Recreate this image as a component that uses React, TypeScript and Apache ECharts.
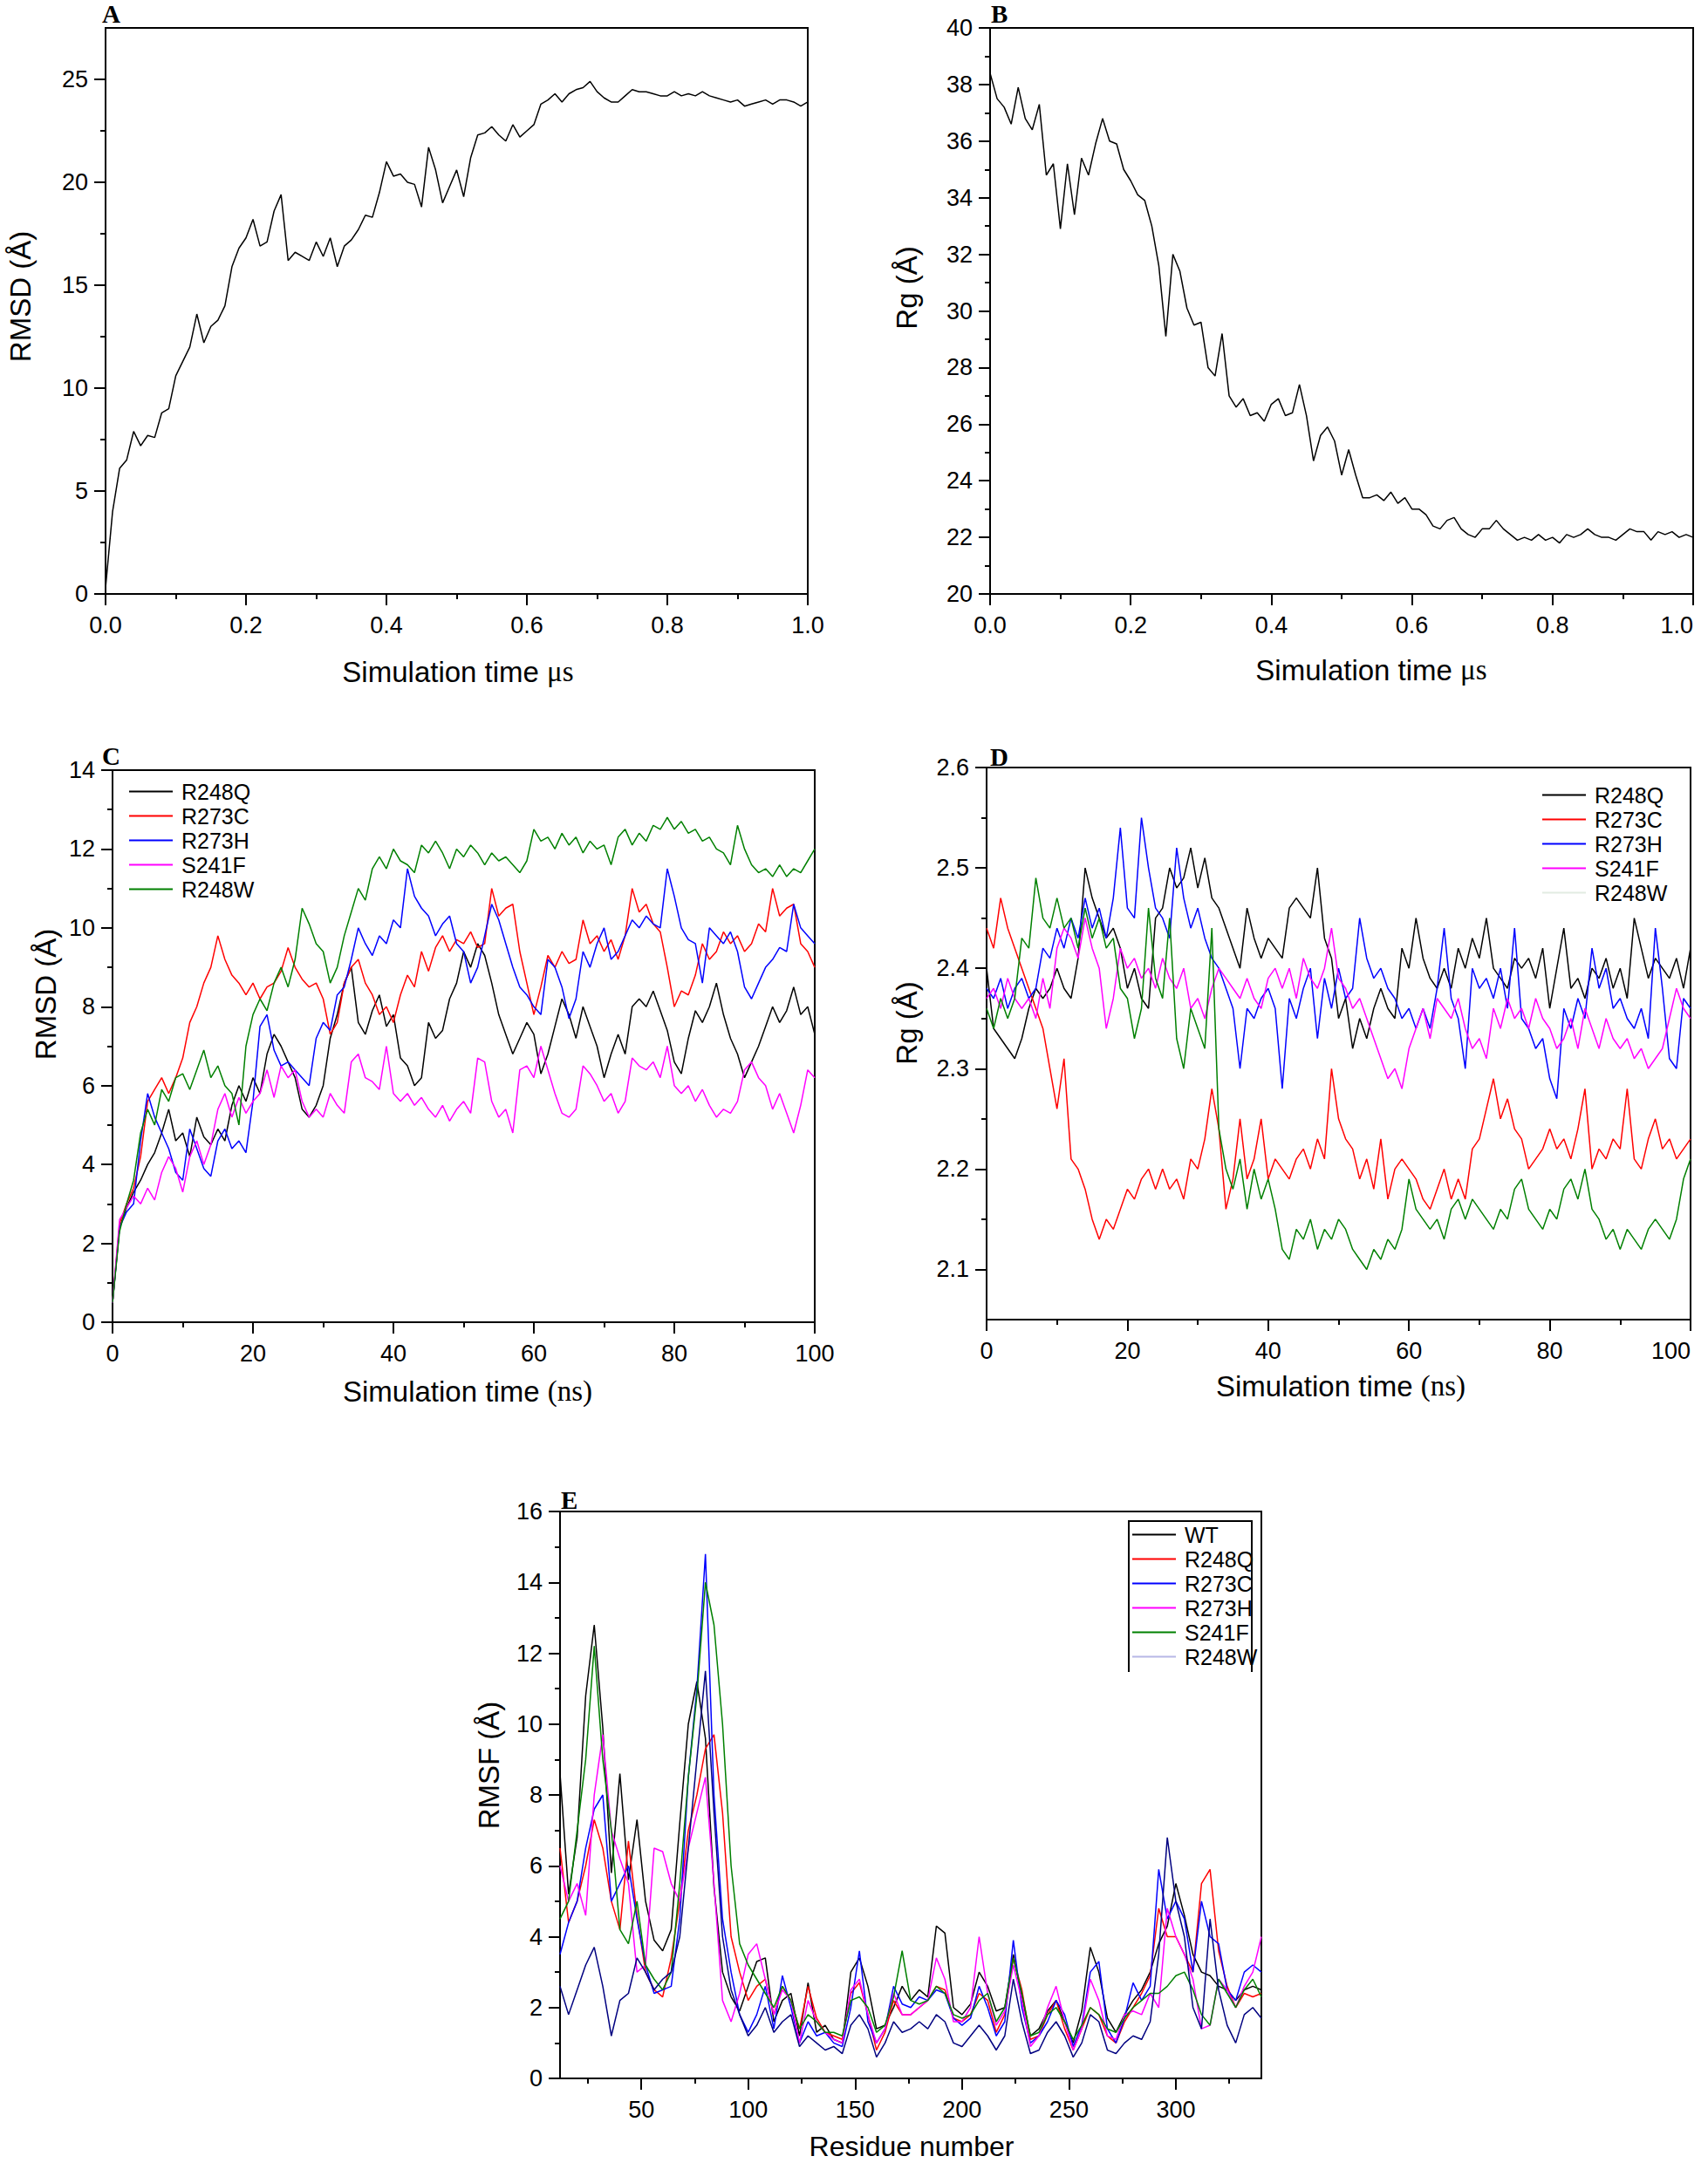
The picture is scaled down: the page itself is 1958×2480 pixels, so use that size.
import React, { useEffect, useRef } from "react";
import * as echarts from "echarts";

const SANS = '"Liberation Sans", Arial, sans-serif';
const SERIF = '"Liberation Serif", "Times New Roman", serif';

// sampling grids (x positions of the samples)
const timeUs = Array.from({ length: 101 }, (_, i) => i / 100);
const timeNs = Array.from({ length: 101 }, (_, i) => i);
const residues = Array.from({ length: 83 }, (_, i) => 12 + 4 * i);

// ---------- Panel A: RMSD (Å) vs time (µs) ----------
const rmsdA = [
  0.3, 4.0, 6.1, 6.5, 7.9, 7.2, 7.7, 7.6, 8.8, 9.0,
  10.6, 11.3, 12.0, 13.6, 12.2, 13.0, 13.3, 14.0, 15.9, 16.8,
  17.3, 18.2, 16.9, 17.1, 18.6, 19.4, 16.2, 16.6, 16.4, 16.2,
  17.1, 16.4, 17.3, 15.9, 16.9, 17.2, 17.7, 18.4, 18.3, 19.5,
  21.0, 20.3, 20.4, 20.0, 19.9, 18.8, 21.7, 20.6, 19.0, 19.8,
  20.6, 19.3, 21.2, 22.3, 22.4, 22.7, 22.3, 22.0, 22.8, 22.2,
  22.5, 22.8, 23.8, 24.0, 24.3, 23.9, 24.3, 24.5, 24.6, 24.9,
  24.4, 24.1, 23.9, 23.9, 24.2, 24.5, 24.4, 24.4, 24.3, 24.2,
  24.2, 24.4, 24.2, 24.3, 24.2, 24.4, 24.2, 24.1, 24.0, 23.9,
  24.0, 23.7, 23.8, 23.9, 24.0, 23.8, 24.0, 24.0, 23.9, 23.7, 23.9,
];

// ---------- Panel B: Rg (Å) vs time (µs) ----------
const rgB = [
  38.4, 37.5, 37.2, 36.6, 37.9, 36.8, 36.4, 37.3, 34.8, 35.2,
  32.9, 35.2, 33.4, 35.4, 34.8, 35.9, 36.8, 36.0, 35.9, 35.0,
  34.6, 34.1, 33.9, 33.0, 31.6, 29.1, 32.0, 31.4, 30.1, 29.5,
  29.6, 28.0, 27.7, 29.2, 27.0, 26.6, 26.9, 26.3, 26.4, 26.1,
  26.7, 26.9, 26.3, 26.4, 27.4, 26.3, 24.7, 25.6, 25.9, 25.4,
  24.2, 25.1, 24.2, 23.4, 23.4, 23.5, 23.3, 23.6, 23.2, 23.4,
  23.0, 23.0, 22.8, 22.4, 22.3, 22.6, 22.7, 22.3, 22.1, 22.0,
  22.3, 22.3, 22.6, 22.3, 22.1, 21.9, 22.0, 21.9, 22.1, 21.9,
  22.0, 21.8, 22.1, 22.0, 22.1, 22.3, 22.1, 22.0, 22.0, 21.9,
  22.1, 22.3, 22.2, 22.2, 21.9, 22.2, 22.1, 22.2, 22.0, 22.1, 22.0,
];

// ---------- Panel C: RMSD (Å) vs time (ns) ----------
const rmsdC_R248Q = [
  0.5, 2.4, 2.9, 3.3, 3.6, 4.0, 4.3, 4.8, 5.4, 4.6,
  4.8, 4.2, 5.2, 4.7, 4.5, 4.9, 4.6, 5.5, 6.0, 5.6,
  6.2, 5.8, 6.8, 7.3, 7.0, 6.6, 6.2, 5.4, 5.2, 5.5,
  6.0, 7.2, 7.8, 8.6, 9.0, 7.6, 7.3, 7.9, 8.3, 7.5,
  7.8, 6.7, 6.5, 6.0, 6.2, 7.6, 7.2, 7.4, 8.2, 8.6,
  9.4, 9.0, 9.6, 9.3, 8.6, 7.8, 7.3, 6.8, 7.2, 7.6,
  7.3, 6.3, 6.8, 7.5, 8.2, 7.8, 7.2, 8.0, 7.5, 7.0,
  6.2, 6.8, 7.3, 6.8, 8.0, 8.2, 8.0, 8.4, 7.9, 7.4,
  6.6, 6.3, 7.2, 7.9, 7.6, 8.0, 8.6, 7.8, 7.2, 6.8,
  6.2, 6.6, 7.0, 7.5, 8.0, 7.6, 7.9, 8.5, 7.8, 8.0, 7.3,
];
const rmsdC_R273C = [
  0.5, 2.5, 3.0, 3.4, 4.2, 5.6, 5.9, 6.2, 5.8, 6.2,
  6.7, 7.6, 8.0, 8.6, 9.0, 9.8, 9.2, 8.8, 8.6, 8.3,
  8.6, 8.2, 8.5, 8.6, 8.9, 9.5, 9.0, 8.7, 8.5, 8.6,
  8.2, 7.3, 7.6, 8.6, 9.0, 9.2, 8.6, 8.3, 7.8, 8.0,
  7.6, 8.3, 8.8, 8.5, 9.4, 8.9, 9.5, 9.8, 9.4, 9.7,
  9.6, 9.9, 9.5, 9.6, 11.0, 10.3, 10.5, 10.6, 9.4, 8.6,
  7.8, 8.5, 9.3, 9.0, 9.4, 9.1, 9.2, 10.2, 9.6, 9.8,
  9.4, 9.7, 9.2, 9.8, 11.0, 10.4, 10.6, 10.1, 9.9, 9.0,
  8.0, 8.4, 8.3, 8.8, 9.6, 9.2, 9.4, 9.9, 9.6, 9.8,
  9.4, 9.6, 10.1, 9.9, 11.0, 10.3, 10.5, 10.6, 9.6, 9.4, 9.0,
];
const rmsdC_R273H = [
  0.5, 2.4, 2.8, 3.0, 4.6, 5.8, 5.2, 4.8, 4.4, 3.8,
  3.6, 4.9, 4.4, 3.9, 3.7, 4.6, 4.9, 4.4, 4.6, 4.3,
  5.6, 7.5, 7.8, 6.9, 6.5, 6.6, 6.4, 6.2, 6.0, 7.2,
  7.6, 7.4, 8.3, 8.5, 9.2, 10.0, 9.6, 9.3, 9.8, 9.6,
  10.2, 10.0, 11.5, 10.8, 10.5, 10.3, 9.8, 10.1, 10.3, 9.6,
  9.4, 8.6, 9.0, 9.8, 10.6, 10.2, 9.6, 9.0, 8.5, 8.3,
  8.0, 7.8, 9.2, 9.0, 8.5, 7.7, 8.2, 9.4, 9.0, 9.6,
  10.0, 9.2, 9.4, 9.8, 10.2, 10.0, 10.3, 10.1, 10.0, 11.5,
  10.8, 10.0, 9.7, 9.6, 8.6, 10.0, 9.8, 9.6, 9.9, 9.4,
  8.5, 8.2, 8.6, 9.0, 9.2, 9.5, 9.4, 10.6, 10.0, 9.8, 9.6,
];
const rmsdC_S241F = [
  0.5, 2.6, 2.9, 3.2, 3.0, 3.4, 3.1, 3.8, 4.2, 3.9,
  3.3, 4.2, 4.6, 4.0, 4.5, 5.4, 5.8, 5.2, 5.7, 5.3,
  5.6, 5.8, 6.4, 5.7, 6.5, 6.2, 6.4, 5.6, 5.2, 5.4,
  5.2, 5.8, 5.5, 5.3, 6.6, 6.8, 6.2, 6.1, 5.9, 7.0,
  5.8, 5.6, 5.8, 5.5, 5.7, 5.4, 5.2, 5.5, 5.1, 5.4,
  5.6, 5.3, 6.7, 6.6, 5.6, 5.2, 5.4, 4.8, 6.4, 6.5,
  6.2, 7.0, 6.4, 5.8, 5.3, 5.2, 5.4, 6.5, 6.3, 6.0,
  5.6, 5.8, 5.3, 5.6, 6.7, 6.5, 6.4, 6.6, 6.2, 7.0,
  6.0, 5.8, 6.0, 5.6, 5.9, 5.5, 5.2, 5.4, 5.3, 5.6,
  6.4, 6.6, 6.2, 6.0, 5.4, 5.8, 5.3, 4.8, 5.5, 6.4, 6.2,
];
const rmsdC_R248W = [
  0.5, 2.3, 3.0, 3.6, 4.8, 5.4, 5.0, 5.9, 5.6, 6.2,
  6.3, 5.9, 6.4, 6.9, 6.2, 6.5, 6.0, 5.8, 5.0, 7.0,
  7.8, 8.2, 7.9, 8.6, 9.0, 8.5, 9.2, 10.5, 10.1, 9.6,
  9.4, 8.6, 9.0, 9.8, 10.4, 11.0, 10.7, 11.5, 11.8, 11.5,
  12.0, 11.7, 11.6, 11.4, 12.1, 11.9, 12.2, 11.9, 11.5, 12.0,
  11.8, 12.1, 11.9, 11.6, 11.9, 11.7, 11.8, 11.6, 11.4, 11.7,
  12.5, 12.2, 12.3, 12.0, 12.4, 12.1, 12.3, 11.9, 12.2, 12.0,
  12.1, 11.6, 12.3, 12.5, 12.1, 12.4, 12.2, 12.6, 12.5, 12.8,
  12.5, 12.7, 12.4, 12.5, 12.2, 12.3, 12.0, 11.9, 11.6, 12.6,
  12.0, 11.6, 11.4, 11.5, 11.3, 11.6, 11.3, 11.5, 11.4, 11.7, 12.0,
];

// ---------- Panel D: Rg (Å) vs time (ns) ----------
const rgD_R248Q = [
  2.40, 2.34, 2.33, 2.32, 2.31, 2.33, 2.36, 2.38, 2.37, 2.38,
  2.40, 2.38, 2.37, 2.41, 2.50, 2.47, 2.45, 2.43, 2.44, 2.42,
  2.38, 2.40, 2.37, 2.36, 2.45, 2.46, 2.50, 2.48, 2.49, 2.52,
  2.48, 2.51, 2.47, 2.46, 2.44, 2.42, 2.40, 2.46, 2.43, 2.41,
  2.43, 2.42, 2.41, 2.46, 2.47, 2.46, 2.45, 2.50, 2.43, 2.41,
  2.35, 2.37, 2.32, 2.35, 2.33, 2.36, 2.38, 2.36, 2.35, 2.42,
  2.40, 2.45, 2.41, 2.39, 2.38, 2.40, 2.38, 2.42, 2.40, 2.43,
  2.41, 2.45, 2.40, 2.39, 2.38, 2.41, 2.40, 2.41, 2.39, 2.42,
  2.36, 2.40, 2.44, 2.38, 2.39, 2.37, 2.40, 2.39, 2.41, 2.38,
  2.40, 2.37, 2.45, 2.42, 2.39, 2.41, 2.40, 2.39, 2.41, 2.38, 2.42,
];
const rgD_R273C = [
  2.44, 2.42, 2.47, 2.44, 2.42, 2.40, 2.38, 2.36, 2.34, 2.30,
  2.26, 2.31, 2.21, 2.20, 2.18, 2.15, 2.13, 2.15, 2.14, 2.16,
  2.18, 2.17, 2.19, 2.20, 2.18, 2.20, 2.18, 2.19, 2.17, 2.21,
  2.20, 2.23, 2.28, 2.24, 2.16, 2.19, 2.25, 2.19, 2.21, 2.25,
  2.19, 2.21, 2.20, 2.19, 2.21, 2.22, 2.20, 2.23, 2.21, 2.30,
  2.25, 2.23, 2.22, 2.19, 2.21, 2.18, 2.23, 2.17, 2.20, 2.21,
  2.20, 2.19, 2.17, 2.16, 2.18, 2.20, 2.17, 2.19, 2.17, 2.22,
  2.23, 2.26, 2.29, 2.25, 2.27, 2.24, 2.23, 2.20, 2.21, 2.22,
  2.24, 2.22, 2.23, 2.21, 2.24, 2.28, 2.20, 2.22, 2.21, 2.23,
  2.22, 2.28, 2.21, 2.20, 2.23, 2.25, 2.22, 2.23, 2.21, 2.22, 2.23,
];
const rgD_R273H = [
  2.38, 2.37, 2.39, 2.36, 2.38, 2.39, 2.37, 2.38, 2.42, 2.41,
  2.44, 2.42, 2.45, 2.43, 2.47, 2.44, 2.46, 2.43, 2.47, 2.54,
  2.46, 2.45, 2.55, 2.50, 2.46, 2.45, 2.43, 2.52, 2.47, 2.44,
  2.46, 2.43, 2.41, 2.40, 2.38, 2.36, 2.30, 2.36, 2.35, 2.37,
  2.38, 2.36, 2.28, 2.37, 2.35, 2.38, 2.40, 2.33, 2.39, 2.36,
  2.40, 2.37, 2.38, 2.45, 2.41, 2.39, 2.40, 2.38, 2.37, 2.35,
  2.36, 2.34, 2.36, 2.34, 2.38, 2.44, 2.37, 2.35, 2.30, 2.40,
  2.38, 2.39, 2.37, 2.40, 2.36, 2.44, 2.35, 2.34, 2.32, 2.33,
  2.29, 2.27, 2.36, 2.34, 2.37, 2.35, 2.42, 2.38, 2.40, 2.36,
  2.37, 2.35, 2.34, 2.36, 2.33, 2.44, 2.38, 2.31, 2.30, 2.37, 2.36,
];
const rgD_S241F = [
  2.37, 2.38, 2.36, 2.39, 2.37, 2.36, 2.37, 2.35, 2.39, 2.36,
  2.42, 2.44, 2.43, 2.41, 2.45, 2.42, 2.40, 2.34, 2.37, 2.42,
  2.40, 2.41, 2.39, 2.40, 2.38, 2.41, 2.39, 2.38, 2.40, 2.36,
  2.37, 2.35, 2.38, 2.40, 2.39, 2.38, 2.37, 2.39, 2.37, 2.36,
  2.39, 2.40, 2.38, 2.40, 2.37, 2.41, 2.39, 2.38, 2.40, 2.44,
  2.39, 2.38, 2.36, 2.37, 2.35, 2.33, 2.31, 2.29, 2.30, 2.28,
  2.32, 2.34, 2.36, 2.33, 2.37, 2.36, 2.35, 2.37, 2.34, 2.32,
  2.33, 2.31, 2.36, 2.34, 2.37, 2.35, 2.36, 2.34, 2.37, 2.35,
  2.34, 2.32, 2.33, 2.35, 2.32, 2.36, 2.34, 2.32, 2.35, 2.33,
  2.32, 2.33, 2.31, 2.32, 2.30, 2.31, 2.32, 2.35, 2.38, 2.36, 2.35,
];
const rgD_R248W = [
  2.36, 2.34, 2.37, 2.35, 2.37, 2.43, 2.42, 2.49, 2.45, 2.44,
  2.47, 2.44, 2.45, 2.42, 2.46, 2.43, 2.45, 2.42, 2.43, 2.38,
  2.37, 2.33, 2.36, 2.46, 2.39, 2.37, 2.45, 2.33, 2.30, 2.36,
  2.34, 2.32, 2.44, 2.24, 2.20, 2.18, 2.21, 2.16, 2.20, 2.17,
  2.19, 2.16, 2.12, 2.11, 2.14, 2.13, 2.15, 2.12, 2.14, 2.13,
  2.15, 2.14, 2.12, 2.11, 2.10, 2.12, 2.11, 2.13, 2.12, 2.14,
  2.19, 2.16, 2.15, 2.14, 2.15, 2.13, 2.16, 2.17, 2.15, 2.17,
  2.16, 2.15, 2.14, 2.16, 2.15, 2.18, 2.19, 2.16, 2.15, 2.14,
  2.16, 2.15, 2.18, 2.19, 2.17, 2.20, 2.16, 2.15, 2.13, 2.14,
  2.12, 2.14, 2.13, 2.12, 2.14, 2.15, 2.14, 2.13, 2.15, 2.19, 2.21,
];

// ---------- Panel E: RMSF (Å) vs residue number ----------
const rmsfE_WT = [
  8.6, 5.2, 6.8, 10.8, 12.8, 9.9, 5.8, 8.6, 5.6, 7.3,
  5.0, 3.9, 3.6, 4.2, 7.2, 10.0, 11.2, 9.6, 5.4, 3.0,
  2.3, 1.9, 2.6, 3.3, 3.4, 1.6, 2.2, 2.4, 1.2, 2.7,
  1.3, 1.5, 1.1, 1.0, 3.0, 3.4, 2.6, 1.4, 1.5, 2.0,
  2.6, 2.2, 2.5, 2.3, 4.3, 4.1, 2.0, 1.8, 2.1, 3.0,
  2.6, 1.9, 2.0, 3.5, 2.3, 1.2, 1.4, 1.9, 2.2, 1.6,
  1.0, 1.9, 3.7, 3.0, 1.7, 1.3, 1.8, 2.2, 2.5, 3.0,
  3.8, 4.3, 5.5, 4.6, 3.5, 3.0, 2.9, 2.6, 2.5, 2.2,
  2.5, 2.6, 2.5,
];
const rmsfE_R248Q = [
  6.5, 4.4, 5.0, 6.0, 7.3, 6.5, 5.0, 4.2, 6.7, 4.6,
  3.0, 2.5, 2.3, 3.4, 5.0, 7.0, 8.0, 9.3, 9.7, 7.5,
  4.0, 3.0, 2.2, 2.6, 2.8, 1.8, 2.6, 2.2, 1.4, 2.6,
  1.7, 1.3, 1.2, 1.1, 2.4, 2.7, 1.8, 0.8, 1.3, 2.2,
  1.8, 1.8, 2.0, 2.2, 2.6, 2.5, 1.7, 1.6, 1.8, 2.4,
  2.2, 1.3, 1.8, 3.4, 2.5, 1.1, 1.2, 1.8, 2.2, 1.4,
  0.8, 1.4, 2.0, 1.8, 1.2, 1.0, 1.6, 2.0, 2.4, 2.9,
  4.8, 4.0, 4.0, 3.5, 3.0, 5.5, 5.9, 3.6, 2.6, 2.0,
  2.4, 2.3, 2.4,
];
const rmsfE_R273C = [
  3.5, 4.4, 5.0, 6.5, 7.6, 8.0, 5.0, 5.5, 6.0, 4.5,
  3.2, 2.4, 2.5, 2.6, 4.5, 8.5, 11.0, 14.8, 8.0, 4.5,
  3.0, 1.8, 1.3, 1.8, 2.6, 1.4, 2.9, 2.0, 1.0, 1.6,
  1.2, 1.3, 1.0, 0.9, 2.0, 3.6, 1.6, 1.0, 1.4, 2.6,
  2.1, 2.0, 2.3, 2.2, 2.5, 2.4, 1.7, 1.5, 1.7, 2.6,
  2.0, 1.2, 1.6, 3.9, 2.0, 1.0, 1.2, 1.6, 2.2, 1.8,
  0.9, 1.5, 3.0, 3.3, 1.4, 1.0, 1.7, 2.7, 2.2, 2.6,
  5.9, 4.5, 5.0, 4.5, 3.0, 5.0, 4.0, 3.8, 2.5, 2.2,
  3.0, 3.2, 3.0,
];
const rmsfE_R273H = [
  6.0, 5.0, 5.5, 4.6, 8.0, 9.7, 7.0, 6.2, 5.5, 3.0,
  3.2, 6.5, 6.4, 5.5, 5.0, 6.5, 7.5, 8.5, 5.5, 2.2,
  1.6, 2.4, 3.5, 3.8, 2.8, 1.8, 2.5, 2.2, 1.0, 2.2,
  1.6, 1.3, 1.1, 1.0, 2.5, 2.8, 1.8, 1.0, 1.4, 2.4,
  1.8, 1.8, 2.0, 2.2, 3.4, 2.8, 1.6, 1.6, 2.0, 4.0,
  2.4, 1.5, 1.9, 3.2, 2.2, 0.9, 1.2, 2.0, 2.6, 1.6,
  0.8, 1.4, 2.8, 2.2, 1.2, 1.1, 1.8, 1.9, 1.8, 2.4,
  2.0, 4.8, 4.0, 3.5, 2.8, 1.4, 1.5, 2.8, 2.5, 2.0,
  2.6, 3.0, 4.0,
];
const rmsfE_S241F = [
  4.5, 5.0, 7.0, 9.0, 12.2, 9.0, 7.0, 4.2, 3.8, 5.0,
  3.2, 2.8, 2.5, 3.0, 5.5, 8.5, 10.8, 14.0, 12.8, 10.0,
  6.0, 3.8, 3.2, 2.8, 2.4, 2.0, 2.6, 2.2, 1.4, 1.8,
  1.6, 1.3, 1.3, 1.2, 2.2, 2.3, 2.0, 1.3, 1.5, 2.3,
  3.6, 2.2, 2.1, 2.2, 2.6, 2.4, 1.8, 1.7, 1.8, 2.2,
  2.4, 1.6, 2.0, 3.4, 2.4, 1.2, 1.3, 1.8, 2.0, 1.6,
  1.1, 1.5, 2.0, 1.8, 1.4, 1.3, 1.7, 2.0, 2.2, 2.4,
  2.4, 2.6, 2.9, 3.0, 2.5, 1.8, 1.5, 2.8, 2.4, 2.0,
  2.5, 2.8, 2.3,
];
const rmsfE_R248W = [
  2.6, 1.8, 2.5, 3.2, 3.7, 2.6, 1.2, 2.2, 2.4, 3.4,
  3.0, 2.5, 2.8, 3.0, 4.0, 6.5, 9.0, 11.5, 7.5, 4.0,
  2.5, 1.8, 1.2, 1.5, 2.0, 1.3, 1.6, 1.8, 0.9, 1.2,
  1.0, 0.8, 0.9, 0.7, 1.5, 1.8, 1.4, 0.6, 1.0, 1.6,
  1.3, 1.4, 1.6, 1.4, 1.8, 1.6, 1.0, 0.9, 1.2, 1.5,
  1.2, 0.8, 1.2, 2.8, 1.6, 0.7, 0.8, 1.3, 1.6, 1.2,
  0.6, 1.0, 1.8, 1.6, 0.8, 0.7, 1.0, 1.2, 1.1, 1.6,
  3.5, 6.8, 5.0, 4.0, 2.0, 1.4, 4.5, 2.5, 1.5, 1.0,
  1.8, 2.0, 1.7,
];

// ---------- tick values ----------
const ticksUsMajor = [0, 0.2, 0.4, 0.6, 0.8, 1.0];
const ticksUsMinor = [0.1, 0.3, 0.5, 0.7, 0.9];
const ticksA_yMajor = [0, 5, 10, 15, 20, 25];
const ticksA_yMinor = [2.5, 7.5, 12.5, 17.5, 22.5];
const ticksB_yMajor = [20, 22, 24, 26, 28, 30, 32, 34, 36, 38, 40];
const ticksB_yMinor = [21, 23, 25, 27, 29, 31, 33, 35, 37, 39];
const ticksNsMajor = [0, 20, 40, 60, 80, 100];
const ticksNsMinor = [10, 30, 50, 70, 90];
const ticksC_yMajor = [0, 2, 4, 6, 8, 10, 12, 14];
const ticksC_yMinor = [1, 3, 5, 7, 9, 11, 13];
const ticksD_yMajor = [2.1, 2.2, 2.3, 2.4, 2.5, 2.6];
const ticksD_yMinor = [2.15, 2.25, 2.35, 2.45, 2.55];
const ticksE_xMajor = [50, 100, 150, 200, 250, 300];
const ticksE_xMinor = [25, 75, 125, 175, 225, 275, 325];
const ticksE_yMajor = [0, 2, 4, 6, 8, 10, 12, 14, 16];
const ticksE_yMinor = [1, 3, 5, 7, 9, 11, 13, 15];

const BLACK = "#000000";
const RED = "#ff0000";
const BLUE = "#0000ff";
const MAGENTA = "#ff00ff";
const GREEN = "#008000";
const NAVY = "#000080";

type AxisSpec = {
  min: number;
  max: number;
  major: number[];
  minor: number[];
  fmt: (v: number) => string;
  alignMax?: boolean;
};

const fmt1 = (v: number) => v.toFixed(1);
const fmt0 = (v: number) => String(Math.round(v));

const panels: { grid: any; x: AxisSpec; y: AxisSpec }[] = [
  {
    grid: { left: 121, top: 32, width: 805, height: 649 },
    x: { min: 0, max: 1, major: ticksUsMajor, minor: ticksUsMinor, fmt: fmt1 },
    y: { min: 0, max: 27.5, major: ticksA_yMajor, minor: ticksA_yMinor, fmt: fmt0 },
  },
  {
    grid: { left: 1135, top: 32, width: 806, height: 649 },
    x: { min: 0, max: 1, major: ticksUsMajor, minor: ticksUsMinor, fmt: fmt1, alignMax: true },
    y: { min: 20, max: 40, major: ticksB_yMajor, minor: ticksB_yMinor, fmt: fmt0 },
  },
  {
    grid: { left: 129, top: 883, width: 805, height: 633 },
    x: { min: 0, max: 100, major: ticksNsMajor, minor: ticksNsMinor, fmt: fmt0 },
    y: { min: 0, max: 14, major: ticksC_yMajor, minor: ticksC_yMinor, fmt: fmt0 },
  },
  {
    grid: { left: 1131, top: 880, width: 807, height: 633 },
    x: { min: 0, max: 100, major: ticksNsMajor, minor: ticksNsMinor, fmt: fmt0, alignMax: true },
    y: { min: 2.05, max: 2.6, major: ticksD_yMajor, minor: ticksD_yMinor, fmt: fmt1 },
  },
  {
    grid: { left: 642, top: 1733, width: 804, height: 650 },
    x: { min: 12, max: 340, major: ticksE_xMajor, minor: ticksE_xMinor, fmt: fmt0 },
    y: { min: 0, max: 16, major: ticksE_yMajor, minor: ticksE_yMinor, fmt: fmt0 },
  },
];

function mkAxis(dim: "x" | "y", gi: number, s: AxisSpec, minor: boolean) {
  return {
    type: "value",
    gridIndex: gi,
    min: s.min,
    max: s.max,
    position: dim === "x" ? "bottom" : "left",
    axisLine: { show: !minor, onZero: false, lineStyle: { color: "#000", width: 2 } },
    axisTick: {
      show: true,
      inside: false,
      length: minor ? 6 : 13,
      lineStyle: { color: "#000", width: 2 },
      customValues: minor ? s.minor : s.major,
    },
    axisLabel: minor
      ? { show: false }
      : {
          show: true,
          customValues: s.major,
          formatter: (v: number) => s.fmt(v),
          margin: dim === "x" ? 22 : 20,
          fontSize: 27,
          fontFamily: SANS,
          color: "#000",
          alignMaxLabel: s.alignMax ? "right" : undefined,
        },
    splitLine: { show: false },
    minorTick: { show: false },
    minorSplitLine: { show: false },
  };
}

const zip = (xs: number[], ys: number[]) => ys.map((y, i) => [xs[i], y]);

function line(name: string, gi: number, xs: number[], ys: number[], color: string) {
  return {
    type: "line",
    name,
    xAxisIndex: gi * 2,
    yAxisIndex: gi * 2,
    data: zip(xs, ys),
    symbol: "none",
    showSymbol: false,
    silent: true,
    animation: false,
    clip: true,
    lineStyle: { color, width: 1.5 },
    itemStyle: { color },
    emphasis: { disabled: true },
  };
}

function legendItem(name: string, color: string) {
  return { name, itemStyle: { color, opacity: 0, borderWidth: 0 }, lineStyle: { color, width: 2 } };
}

function legendBase(left: number, top: number, data: any[]) {
  return {
    left,
    top,
    orient: "vertical",
    padding: 0,
    itemGap: 3,
    itemWidth: 50,
    itemHeight: 14,
    selectedMode: false,
    formatter: (n: string) => n.split("|")[1],
    textStyle: { fontSize: 25, fontFamily: SANS, color: "#000", lineHeight: 25, padding: [0, 0, 0, 5] },
    data,
  };
}

function title(x: number, y: number, main: string, serifPart: string, rotate = false, size = 33) {
  return {
    type: "text",
    x,
    y,
    rotation: rotate ? Math.PI / 2 : 0,
    style: {
      text: serifPart ? `{a|${main}}{b|${serifPart}}` : `{a|${main}}`,
      rich: {
        a: { fontSize: size, fontFamily: SANS, fill: "#000" },
        b: { fontSize: size, fontFamily: SERIF, fill: "#000" },
      },
      fill: "#000",
      align: "center",
      verticalAlign: "middle",
      textAlign: "center",
      textVerticalAlign: "middle",
    },
  };
}

function letter(x: number, y: number, t: string) {
  return {
    type: "text",
    x,
    y,
    style: {
      text: t,
      font: `bold 29px ${SERIF}`,
      fill: "#000",
      align: "left",
      verticalAlign: "middle",
      textAlign: "left",
      textVerticalAlign: "middle",
    },
  };
}

function buildOption() {
  const grid = panels.map((p) => ({
    ...p.grid,
    show: true,
    borderColor: "#000",
    borderWidth: 2,
    backgroundColor: "transparent",
    containLabel: false,
    outerBoundsMode: "none",
  }));
  const xAxis: any[] = [];
  const yAxis: any[] = [];
  panels.forEach((p, gi) => {
    xAxis.push(mkAxis("x", gi, p.x, false));
    xAxis.push(mkAxis("x", gi, p.x, true));
    yAxis.push(mkAxis("y", gi, p.y, false));
    yAxis.push(mkAxis("y", gi, p.y, true));
  });

  const series = [
    line("A|RMSD", 0, timeUs, rmsdA, BLACK),
    line("B|Rg", 1, timeUs, rgB, BLACK),
    line("C|R248Q", 2, timeNs, rmsdC_R248Q, BLACK),
    line("C|R273C", 2, timeNs, rmsdC_R273C, RED),
    line("C|R273H", 2, timeNs, rmsdC_R273H, BLUE),
    line("C|S241F", 2, timeNs, rmsdC_S241F, MAGENTA),
    line("C|R248W", 2, timeNs, rmsdC_R248W, GREEN),
    line("D|R248Q", 3, timeNs, rgD_R248Q, BLACK),
    line("D|R273C", 3, timeNs, rgD_R273C, RED),
    line("D|R273H", 3, timeNs, rgD_R273H, BLUE),
    line("D|S241F", 3, timeNs, rgD_S241F, MAGENTA),
    line("D|R248W", 3, timeNs, rgD_R248W, GREEN),
    line("E|WT", 4, residues, rmsfE_WT, BLACK),
    line("E|R248Q", 4, residues, rmsfE_R248Q, RED),
    line("E|R273C", 4, residues, rmsfE_R273C, BLUE),
    line("E|R273H", 4, residues, rmsfE_R273H, MAGENTA),
    line("E|S241F", 4, residues, rmsfE_S241F, GREEN),
    line("E|R248W", 4, residues, rmsfE_R248W, NAVY),
  ];

  const legend = [
    legendBase(147, 895, [
      legendItem("C|R248Q", BLACK),
      legendItem("C|R273C", RED),
      legendItem("C|R273H", BLUE),
      legendItem("C|S241F", MAGENTA),
      legendItem("C|R248W", GREEN),
    ]),
    legendBase(1767, 899, [
      legendItem("D|R248Q", BLACK),
      legendItem("D|R273C", RED),
      legendItem("D|R273H", BLUE),
      legendItem("D|S241F", MAGENTA),
      legendItem("D|R248W", "#e2ece2"),
    ]),
    legendBase(1297, 1747, [
      legendItem("E|WT", BLACK),
      legendItem("E|R248Q", RED),
      legendItem("E|R273C", BLUE),
      legendItem("E|R273H", MAGENTA),
      legendItem("E|S241F", GREEN),
      legendItem("E|R248W", "#b8b8e6"),
    ]),
  ];

  const graphic = [
    letter(117, 16, "A"),
    letter(1136, 16, "B"),
    letter(117, 867, "C"),
    letter(1135, 868, "D"),
    letter(643, 1720, "E"),
    title(525, 770, "Simulation time ", "\u03bcs"),
    title(1572, 768, "Simulation time ", "\u03bcs"),
    title(536, 1595, "Simulation time ", "(ns)"),
    title(1537, 1589, "Simulation time ", "(ns)"),
    title(1045, 2461, "Residue number", "", false, 32),
    title(23, 340, "RMSD (\u00c5)", "", true),
    title(1039, 330, "Rg (\u00c5)", "", true),
    title(52, 1140, "RMSD (\u00c5)", "", true),
    title(1039, 1173, "Rg (\u00c5)", "", true),
    title(560, 2024, "RMSF (\u00c5)", "", true),
    {
      type: "polyline",
      shape: { points: [[1294, 1917], [1294, 1744], [1435, 1744], [1435, 1917]] },
      style: { stroke: "#000", lineWidth: 2, fill: null },
      silent: true,
    },
  ];

  return {
    animation: false,
    backgroundColor: "#ffffff",
    grid,
    xAxis,
    yAxis,
    series,
    legend,
    graphic,
  };
}

export default function App() {
  const ref = useRef<HTMLDivElement>(null);
  useEffect(() => {
    if (!ref.current) return;
    const chart = echarts.init(ref.current, null, { renderer: "svg", width: 1958, height: 2480 });
    chart.setOption(buildOption() as any);
    return () => {
      chart.dispose();
    };
  }, []);
  return (
    <div
      ref={ref}
      style={{ position: "fixed", left: 0, top: 0, width: 1958, height: 2480, background: "#fff" }}
    />
  );
}
